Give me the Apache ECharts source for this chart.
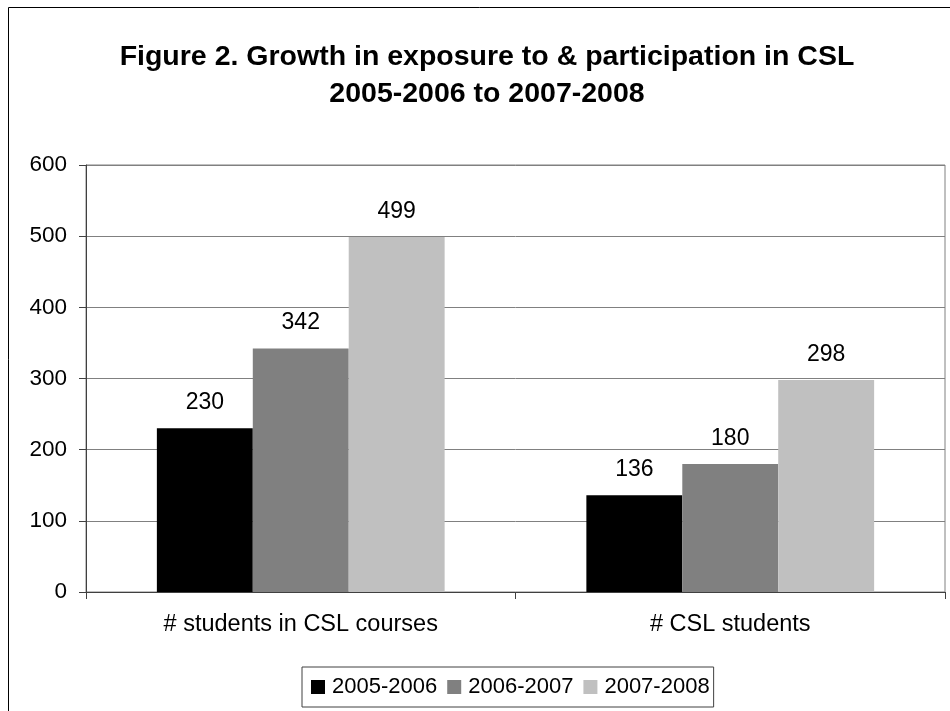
<!DOCTYPE html>
<html>
<head>
<meta charset="utf-8">
<script src="https://cdn.jsdelivr.net/npm/echarts@6/dist/echarts.min.js"></script>
<style>html,body{margin:0;padding:0;background:#fff;}#c{width:950px;height:711px;}</style>
</head>
<body>
<div id="c"></div>
<script>
const categories = ['# students in CSL courses', '# CSL students'];
const seriesNames = ['2005-2006', '2006-2007', '2007-2008'];
const values2005 = [230, 136];
const values2006 = [342, 180];
const values2007 = [499, 298];
const colors = ['#000000', '#808080', '#C0C0C0'];
const FONT = '"Liberation Sans", Arial, sans-serif';

const chart = echarts.init(document.getElementById('c'));
const dataSets = [values2005, values2006, values2007];
chart.setOption({
  animation: false,
  backgroundColor: '#fff',
  textStyle: { fontFamily: FONT },
  graphic: [{
    type: 'rect', silent: true, z: 100,
    shape: { x: 8.5, y: 7.5, width: 2000, height: 2000 },
    style: { fill: 'none', stroke: '#000', lineWidth: 1 }
  }],
  title: {
    text: 'Figure 2. Growth in exposure to & participation in CSL\n2005-2006 to 2007-2008',
    left: 482, top: 34, textAlign: 'center',
    textStyle: { fontFamily: FONT, fontSize: 28.5, fontWeight: 'bold', color: '#000', lineHeight: 37 }
  },
  legend: {
    data: seriesNames,
    left: 302, top: 667,
    icon: 'rect', itemWidth: 14, itemHeight: 14, itemGap: 10,
    padding: [9, 4, 9, 9],
    borderColor: '#404040', borderWidth: 1,
    textStyle: { fontFamily: FONT, fontSize: 22, color: '#000', padding: [0, 0, 0, 2] }
  },
  grid: {
    left: 86, right: 5, top: 165, bottom: 119,
    show: true, borderColor: '#808080', borderWidth: 1
  },
  xAxis: {
    type: 'category', data: categories,
    axisLine: { lineStyle: { color: '#404040', width: 1 } },
    axisTick: { show: true, length: 7, lineStyle: { color: '#404040' } },
    axisLabel: { fontFamily: FONT, fontSize: 23.5, color: '#000', margin: 21 }
  },
  yAxis: {
    type: 'value', min: 0, max: 600, interval: 100,
    axisLine: { show: true, lineStyle: { color: '#404040', width: 1 } },
    axisTick: { show: true, length: 7, lineStyle: { color: '#404040' } },
    axisLabel: { fontFamily: FONT, fontSize: 22.5, color: '#000', margin: 19 },
    splitLine: { show: true, lineStyle: { color: '#808080', width: 1 } }
  },
  series: seriesNames.map((n, i) => ({
    name: n, type: 'bar', data: dataSets[i],
    barGap: '0%', barCategoryGap: '33%',
    itemStyle: { color: colors[i] },
    label: { show: true, position: 'top', distance: 14, fontFamily: FONT, fontSize: 23, color: '#000' }
  }))
});
</script>
</body>
</html>
